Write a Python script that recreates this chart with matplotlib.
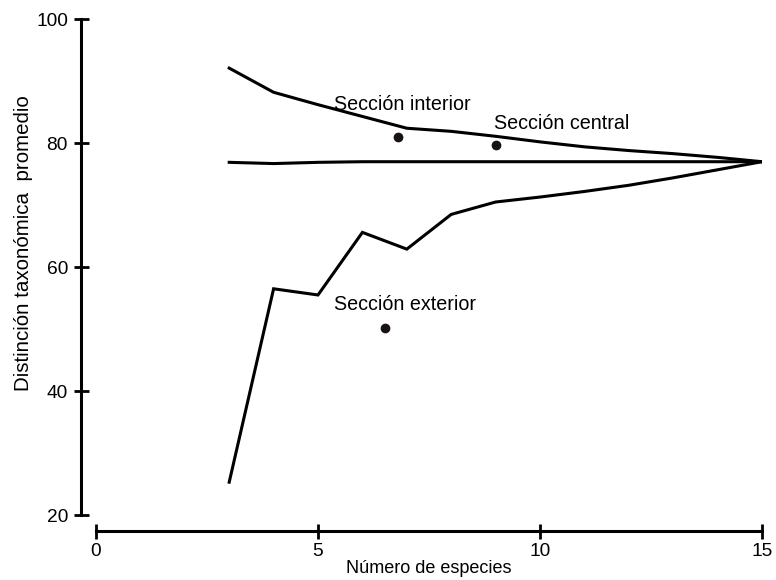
import matplotlib
matplotlib.use("Agg")
import matplotlib.pyplot as plt

plt.rcParams["font.family"] = ["Liberation Sans", "DejaVu Sans"]

# Curvas de rarefacción (número de especies vs distinción taxonómica)
species = [3, 4, 5, 6, 7, 8, 9, 10, 11, 12, 13, 14, 15]
upper = [92.1, 88.2, 86.2, 84.3, 82.4, 81.9, 81.1, 80.2, 79.4, 78.8, 78.3, 77.7, 77.0]
middle = [76.9, 76.7, 76.9, 77.0, 77.0, 77.0, 77.0, 77.0, 77.0, 77.0, 77.0, 77.0, 77.0]
lower = [25.3, 56.5, 55.5, 65.6, 62.9, 68.5, 70.5, 71.3, 72.2, 73.2, 74.4, 75.7, 77.0]

# Secciones observadas
section_names = ["Sección interior", "Sección central", "Sección exterior"]
section_x = [6.8, 9.0, 6.5]
section_y = [81.0, 79.7, 50.1]
label_x = [5.36, 8.96, 5.36]
label_y = [86.3, 83.1, 54.0]

fig = plt.figure(figsize=(7.76, 5.8), dpi=100)
ax = fig.add_axes([0.1237, 0.112, 0.8583, 0.855])

for series in (upper, middle, lower):
    ax.plot(species, series, color="black", linewidth=2.2, solid_joinstyle="miter")

ax.plot(section_x, section_y, "o", color="#1a1212", markersize=6)
for name, tx, ty in zip(section_names, label_x, label_y):
    ax.text(tx, ty, name, fontsize=14.2, ha="left", va="center")

ax.set_xlim(0, 15)
ax.set_ylim(20, 100)
ax.set_xticks([0, 5, 10, 15])
ax.set_yticks([20, 40, 60, 80, 100])

for side in ("top", "right"):
    ax.spines[side].set_visible(False)
ax.spines["left"].set_position(("outward", 10.8))
ax.spines["bottom"].set_position(("outward", 11.5))
ax.spines["left"].set_bounds(20, 100)
ax.spines["bottom"].set_bounds(0, 15)
for side in ("left", "bottom"):
    ax.spines[side].set_linewidth(2.2)

ax.tick_params(direction="inout", length=10.8, width=2, labelsize=13.8, pad=3)
ax.tick_params(axis="y", pad=4)

ax.set_xlabel("Número de especies", fontsize=13)
ax.set_ylabel("Distinción taxonómica  promedio", fontsize=14.8)
ax.xaxis.set_label_coords(0.5, -0.09)
ax.yaxis.set_label_coords(-0.095, 0.548)

fig.savefig("out.png", dpi=100)
